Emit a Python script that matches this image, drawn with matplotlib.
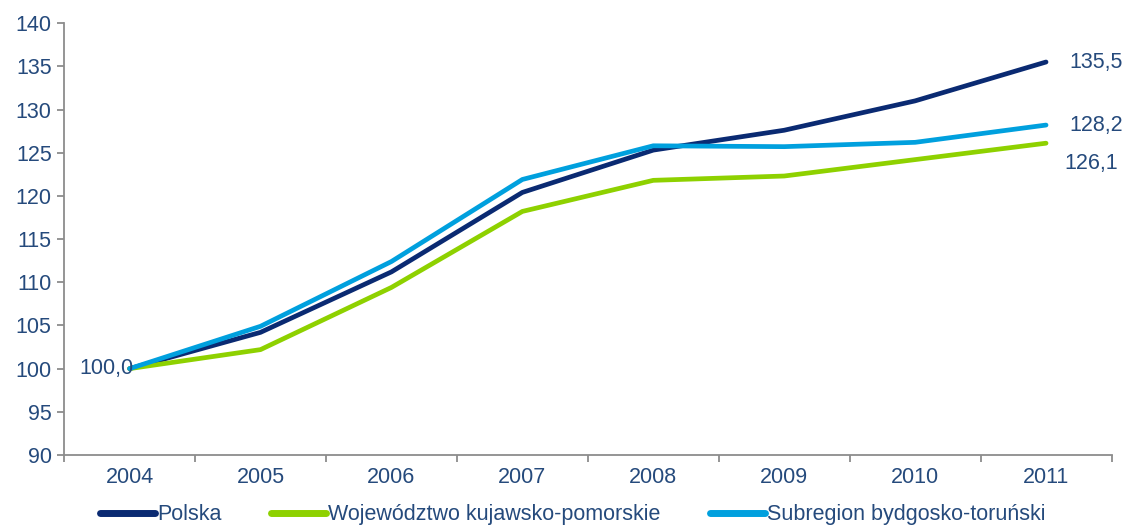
import matplotlib.pyplot as plt
from matplotlib.ticker import FixedLocator

plt.rcParams['font.family'] = ['Liberation Sans', 'DejaVu Sans']

# dane
lata = ['2004', '2005', '2006', '2007', '2008', '2009', '2010', '2011']
polska = [100.0, 104.2, 111.2, 120.4, 125.3, 127.6, 131.0, 135.5]
wojewodztwo = [100.0, 102.2, 109.4, 118.2, 121.8, 122.3, 124.2, 126.1]
subregion = [100.0, 104.9, 112.4, 121.9, 125.8, 125.7, 126.2, 128.2]

nazwy = ['Polska', 'Województwo kujawsko-pomorskie', 'Subregion bydgosko-toruński']
kolory = ['#0A2A72', '#8ED100', '#00A0DE']
kolor_tekstu = '#254A7C'
rozmiar = 15.5

fig = plt.figure(figsize=(11.25, 5.26), dpi=100)
ax = fig.add_axes([0.057, 0.135, 0.931, 0.821])

x = range(len(lata))
for serie, nazwa, kolor in zip([polska, wojewodztwo, subregion], nazwy, kolory):
    ax.plot(x, serie, color=kolor, lw=3.4, label=nazwa, solid_capstyle='round')

ax.set_xlim(-0.5, len(lata) - 0.5)
ax.set_ylim(90, 140)
ax.set_yticks(range(90, 141, 5))
ax.set_xticks(list(x))
ax.set_xticklabels(lata)
ax.xaxis.set_minor_locator(FixedLocator([i - 0.5 for i in range(len(lata) + 1)]))

for s in ['top', 'right']:
    ax.spines[s].set_visible(False)
for s in ['left', 'bottom']:
    ax.spines[s].set_color('#8C8C8C')
    ax.spines[s].set_linewidth(1.3)

ax.tick_params(axis='y', colors='#8C8C8C', labelcolor=kolor_tekstu, labelsize=rozmiar, length=5, width=1.3, pad=4)
ax.tick_params(axis='x', which='major', length=0, labelcolor=kolor_tekstu, labelsize=rozmiar, pad=9)
ax.tick_params(axis='x', which='minor', length=5, width=1.3, colors='#8C8C8C')

# etykiety wartosci
ax.text(0.03, polska[0], '100,0', ha='right', va='center', fontsize=rozmiar, color=kolor_tekstu)
ax.text(7.18, polska[-1], '135,5', ha='left', va='center', fontsize=rozmiar, color=kolor_tekstu, clip_on=False)
ax.text(7.18, subregion[-1], '128,2', ha='left', va='center', fontsize=rozmiar, color=kolor_tekstu, clip_on=False)
ax.text(7.14, wojewodztwo[-1] - 2.3, '126,1', ha='left', va='center', fontsize=rozmiar, color=kolor_tekstu, clip_on=False)

leg = fig.legend(loc='lower left', bbox_to_anchor=(0.072, -0.035), ncol=3, frameon=False,
                 fontsize=rozmiar, handlelength=2.55, handletextpad=0.1, columnspacing=2.3)
for t in leg.get_texts():
    t.set_color(kolor_tekstu)
for h in leg.get_lines():
    h.set_linewidth(5)

fig.savefig('out.png', dpi=100)
